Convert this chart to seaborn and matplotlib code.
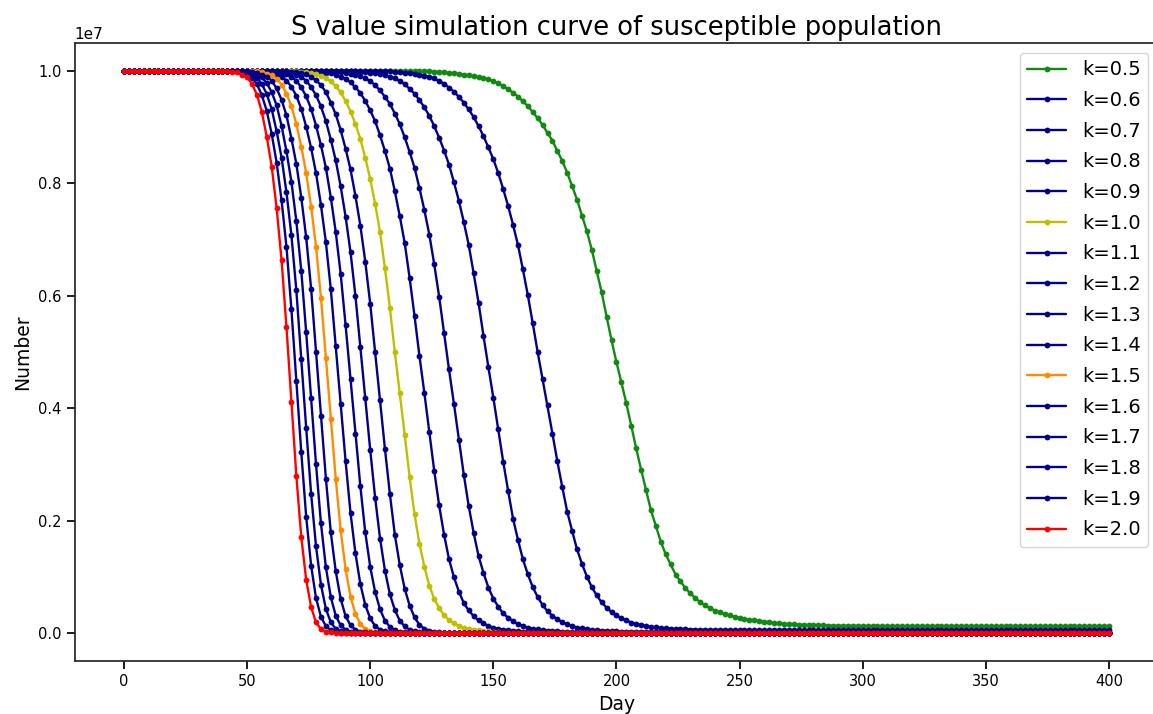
import matplotlib

matplotlib.use("Agg")

import matplotlib.pyplot as plt
import numpy as np
import seaborn as sns

sns.set_theme(style="ticks")
plt.rcParams["font.family"] = ["DejaVu Sans"]
plt.rcParams["text.color"] = "black"
plt.rcParams["axes.labelcolor"] = "black"
plt.rcParams["xtick.color"] = "black"
plt.rcParams["ytick.color"] = "black"

# day grid (every 2 days) and scale of the S values
DAYS = np.arange(0, 401, 2)
S_SCALE = 1e7

# S values, in units of 1e7, from a start day on;
# before the start the curve sits at 1.0, after the list at the floor value
s_k05 = [0.9987, 0.9983, 0.9977, 0.997, 0.9961, 0.995, 0.9938, 0.9926, 0.9908, 0.9893,
         0.9873, 0.9853, 0.9824, 0.978, 0.9735, 0.9676, 0.9616, 0.9546, 0.9462, 0.9378,
         0.9271, 0.9163, 0.904, 0.89, 0.8761, 0.8579, 0.8399, 0.8192, 0.7952, 0.7712,
         0.7427, 0.7147, 0.6819, 0.644, 0.606, 0.563, 0.521, 0.482, 0.446, 0.409,
         0.369, 0.329, 0.291, 0.255, 0.2186, 0.1906, 0.1626, 0.1401, 0.1221, 0.1041,
         0.0921, 0.0801, 0.0704, 0.0624, 0.0545, 0.0493, 0.0441, 0.0401, 0.0369, 0.0337,
         0.0313, 0.0289, 0.027, 0.0254, 0.0238, 0.0226, 0.0214, 0.0202, 0.019, 0.0178,
         0.017, 0.0163, 0.0157, 0.0153, 0.0149, 0.0145, 0.0141, 0.0139, 0.0137, 0.0135,
         0.0133, 0.0132, 0.0131, 0.013, 0.0129, 0.0128, 0.0127, 0.0126, 0.0125]
s_k06 = [0.9988, 0.9983, 0.9974, 0.9965, 0.9956, 0.9937, 0.9918, 0.9894, 0.987, 0.9822,
         0.9775, 0.9706, 0.9635, 0.954, 0.944, 0.9317, 0.9183, 0.902, 0.8841, 0.8642,
         0.8431, 0.8186, 0.79, 0.7602, 0.7266, 0.6907, 0.6472, 0.6016, 0.5514, 0.500,
         0.452, 0.405, 0.3549, 0.3055, 0.2597, 0.2159, 0.1818, 0.1487, 0.1231, 0.1005,
         0.0816, 0.067, 0.0544, 0.0453, 0.0373, 0.0316, 0.0262, 0.0224, 0.0187, 0.0164,
         0.014, 0.0126, 0.0111, 0.0101, 0.009, 0.0084, 0.0078, 0.0073, 0.0068, 0.0065,
         0.0062, 0.006, 0.0058, 0.0057, 0.0055, 0.0054, 0.0053]
s_k07 = [0.9989, 0.9983, 0.9974, 0.9963, 0.9948, 0.9926, 0.9903, 0.9869, 0.9822, 0.9767,
         0.9686, 0.9597, 0.9484, 0.9354, 0.9203, 0.902, 0.8815, 0.8586, 0.8336, 0.8024,
         0.7693, 0.7315, 0.6907, 0.6405, 0.5877, 0.5289, 0.473, 0.4189, 0.3622, 0.3051,
         0.2533, 0.2036, 0.166, 0.1313, 0.1048, 0.0816, 0.0643, 0.0498, 0.0389, 0.0308,
         0.0244, 0.0195, 0.0152, 0.0124, 0.0098, 0.0082, 0.0068, 0.0056, 0.0048, 0.0042,
         0.0037, 0.0032, 0.0029, 0.0026, 0.0024, 0.0023]
s_k08 = [0.9988, 0.998, 0.997, 0.9956, 0.9932, 0.9907, 0.9872, 0.9823, 0.9748, 0.9656,
         0.9542, 0.9414, 0.9245, 0.9056, 0.8822, 0.8561, 0.8282, 0.7916, 0.7525, 0.709,
         0.6563, 0.5985, 0.5332, 0.469, 0.408, 0.3444, 0.2821, 0.226, 0.1785, 0.137,
         0.1071, 0.0809, 0.0614, 0.0468, 0.0348, 0.0274, 0.0211, 0.0162, 0.0127, 0.0098,
         0.0079, 0.0064, 0.0052, 0.0045, 0.0037, 0.0031, 0.0026, 0.0021, 0.0018, 0.0015]
s_k09 = [0.999, 0.9983, 0.9968, 0.9958, 0.9932, 0.9901, 0.9865, 0.9798, 0.9712, 0.9609,
         0.9469, 0.9301, 0.9107, 0.8856, 0.8575, 0.8264, 0.7862, 0.742, 0.6944, 0.632,
         0.5642, 0.493, 0.427, 0.358, 0.2886, 0.227, 0.175, 0.1316, 0.0995, 0.0739,
         0.0534, 0.0402, 0.0301, 0.0224, 0.017, 0.0131, 0.0097, 0.0075, 0.0061, 0.0049,
         0.004, 0.0032, 0.0026, 0.002, 0.0016]
s_k10 = [0.9988, 0.998, 0.9967, 0.9946, 0.9916, 0.9878, 0.9815, 0.973, 0.962, 0.947,
         0.928, 0.906, 0.879, 0.846, 0.808, 0.764, 0.713, 0.649, 0.578, 0.500,
         0.427, 0.353, 0.278, 0.211, 0.159, 0.118, 0.084, 0.061, 0.044, 0.032,
         0.023, 0.017, 0.0127, 0.0095, 0.0073, 0.0057, 0.0046, 0.0036, 0.0028, 0.002,
         0.0012]
s_k11 = [0.9992, 0.998, 0.9963, 0.994, 0.990, 0.9837, 0.975, 0.9625, 0.944, 0.923,
         0.895, 0.862, 0.825, 0.778, 0.725, 0.661, 0.586, 0.500, 0.414, 0.327,
         0.247, 0.175, 0.121, 0.079, 0.049, 0.028, 0.0145, 0.0077, 0.0045, 0.0024,
         0.0014]
s_k12 = [0.9992, 0.998, 0.9962, 0.9935, 0.9893, 0.983, 0.9715, 0.957, 0.937, 0.911,
         0.878, 0.841, 0.795, 0.741, 0.678, 0.600, 0.509, 0.418, 0.326, 0.241,
         0.168, 0.111, 0.069, 0.041, 0.022, 0.012, 0.006, 0.003, 0.0016]
s_k13 = [0.9994, 0.9985, 0.9967, 0.994, 0.9895, 0.983, 0.971, 0.955, 0.933, 0.903,
         0.868, 0.828, 0.775, 0.714, 0.639, 0.548, 0.452, 0.355, 0.261, 0.179,
         0.118, 0.073, 0.042, 0.022, 0.011, 0.0056, 0.0026, 0.0014]
s_k14 = [0.9989, 0.9966, 0.9937, 0.9899, 0.9832, 0.972, 0.956, 0.933, 0.901, 0.863,
         0.8185, 0.7615, 0.6955, 0.612, 0.510, 0.408, 0.306, 0.214, 0.142, 0.087,
         0.050, 0.026, 0.0124, 0.006, 0.0028, 0.0014]
s_k15 = [0.9994, 0.998, 0.995, 0.9925, 0.9865, 0.976, 0.960, 0.9375, 0.906, 0.8655,
         0.8185, 0.759, 0.6875, 0.597, 0.489, 0.381, 0.275, 0.183, 0.114, 0.065,
         0.034, 0.016, 0.0073, 0.0034, 0.0016, 0.0009]
s_k16 = [0.9992, 0.9966, 0.9935, 0.990, 0.983, 0.969, 0.949, 0.921, 0.880, 0.835,
         0.775, 0.704, 0.613, 0.500, 0.387, 0.275, 0.179, 0.110, 0.061, 0.030,
         0.0136, 0.0062, 0.0027, 0.0013]
s_k17 = [0.9988, 0.9966, 0.9938, 0.9887, 0.9786, 0.9625, 0.939, 0.9025, 0.857, 0.803,
         0.733, 0.645, 0.535, 0.418, 0.300, 0.195, 0.117, 0.064, 0.031, 0.0135,
         0.006, 0.0025, 0.0012]
s_k18 = [0.9988, 0.9966, 0.9939, 0.9883, 0.977, 0.959, 0.932, 0.893, 0.846, 0.784,
         0.708, 0.610, 0.488, 0.365, 0.248, 0.154, 0.086, 0.043, 0.019, 0.0077,
         0.003, 0.0014]
s_k19 = [0.9993, 0.9965, 0.9937, 0.9885, 0.977, 0.957, 0.929, 0.888, 0.837, 0.770,
         0.687, 0.576, 0.449, 0.322, 0.207, 0.120, 0.062, 0.029, 0.012, 0.005,
         0.0019, 0.0009]
s_k20 = [0.999, 0.9975, 0.9935, 0.989, 0.977, 0.958, 0.927, 0.883, 0.830, 0.756,
         0.664, 0.544, 0.412, 0.280, 0.171, 0.095, 0.046, 0.019, 0.007, 0.0026,
         0.0012, 0.0006]

k_labels = ["k=0.5", "k=0.6", "k=0.7", "k=0.8", "k=0.9", "k=1.0", "k=1.1", "k=1.2",
            "k=1.3", "k=1.4", "k=1.5", "k=1.6", "k=1.7", "k=1.8", "k=1.9", "k=2.0"]
start_days = [126, 110, 96, 86, 78, 72, 68, 64, 60, 58, 54, 52, 50, 48, 46, 44]
floors = [0.0123, 0.0051, 0.0021, 0.0009, 0.0004, 0.0003, 0.0005, 0.0005,
          0.0005, 0.0004, 0.0004, 0.0003, 0.0003, 0.0003, 0.0002, 0.0002]
series = [s_k05, s_k06, s_k07, s_k08, s_k09, s_k10, s_k11, s_k12,
          s_k13, s_k14, s_k15, s_k16, s_k17, s_k18, s_k19, s_k20]
colors = ["#108a10", "#00008b", "#00008b", "#00008b", "#00008b", "#bfbf00", "#00008b", "#00008b",
          "#00008b", "#00008b", "#ff8c00", "#00008b", "#00008b", "#00008b", "#00008b", "#ff0000"]


def full_curve(start, values, floor):
    n_before = (start - DAYS[0]) // 2
    n_after = len(DAYS) - n_before - len(values)
    return np.concatenate([np.ones(n_before), values, np.full(n_after, floor)]) * S_SCALE


fig, ax = plt.subplots(figsize=(11.53, 7.14), dpi=100)

for label, start, vals, floor, color in zip(k_labels, start_days, series, floors, colors):
    sns.lineplot(x=DAYS, y=full_curve(start, vals, floor), ax=ax, color=color,
                 marker="o", markersize=4.2, markeredgewidth=0, linewidth=1.7, label=label)

ax.set_xlim(-20, 420)
ax.set_title("S value simulation curve of susceptible population", fontsize=18.5)
ax.set_xlabel("Day", fontsize=13.5)
ax.set_ylabel("Number", fontsize=13.5)
ax.tick_params(labelsize=10.5)
ax.legend(loc="upper right", fontsize=14, labelspacing=0.6)

# the right spine of the original sits just past the picture's edge
ax.set_position([0.0648, 0.0742, 0.9397, 0.8656])
fig.savefig("out.png", dpi=100)
plt.close(fig)
